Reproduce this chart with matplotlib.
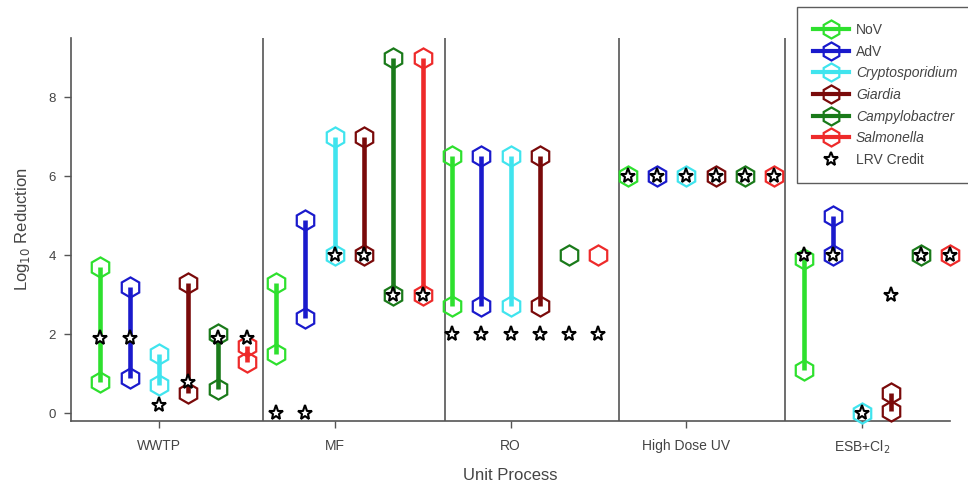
import matplotlib
matplotlib.use("Agg")
import matplotlib.pyplot as plt
from matplotlib.lines import Line2D

plt.rcParams['font.family'] = ['Liberation Sans', 'DejaVu Sans']

processes = ["WWTP", "MF", "RO", "High Dose UV", "ESB+Cl$_2$"]
species = ["NoV", "AdV", "Cryptosporidium", "Giardia", "Campylobactrer", "Salmonella"]
italic = [False, False, True, True, True, True]
colors = ["#2ee02e", "#1a1acc", "#40e4ee", "#7a0a0a", "#1a7a1a", "#ee2a2a"]

nov_low = [0.8, 1.5, 2.7, 6.0, 1.1]
nov_high = [3.7, 3.3, 6.5, 6.0, 3.9]
adv_low = [0.9, 2.4, 2.7, 6.0, 4.0]
adv_high = [3.2, 4.9, 6.5, 6.0, 5.0]
crypto_low = [0.7, 4.0, 2.7, 6.0, 0.0]
crypto_high = [1.5, 7.0, 6.5, 6.0, 0.0]
giardia_low = [0.5, 4.0, 2.7, 6.0, 0.05]
giardia_high = [3.3, 7.0, 6.5, 6.0, 0.5]
campy_low = [0.6, 3.0, 4.0, 6.0, 4.0]
campy_high = [2.0, 9.0, 4.0, 6.0, 4.0]
salm_low = [1.3, 3.0, 4.0, 6.0, 4.0]
salm_high = [1.7, 9.0, 4.0, 6.0, 4.0]

nov_lrv = [1.9, 0.0, 2.0, 6.0, 4.0]
adv_lrv = [1.9, 0.0, 2.0, 6.0, 4.0]
crypto_lrv = [0.2, 4.0, 2.0, 6.0, 0.0]
giardia_lrv = [0.8, 4.0, 2.0, 6.0, 3.0]
campy_lrv = [1.9, 3.0, 2.0, 6.0, 4.0]
salm_lrv = [1.9, 3.0, 2.0, 6.0, 4.0]

lows = [nov_low, adv_low, crypto_low, giardia_low, campy_low, salm_low]
highs = [nov_high, adv_high, crypto_high, giardia_high, campy_high, salm_high]
lrvs = [nov_lrv, adv_lrv, crypto_lrv, giardia_lrv, campy_lrv, salm_lrv]

separators = [1.59, 2.63, 3.62, 4.56]
gray = "#444444"

fig = plt.figure(figsize=(9.68, 4.91), dpi=100)
ax = fig.add_axes([71/968, 70/491, (950-71)/968, (421-38)/491])

for s in separators:
    ax.axvline(s, color="#555555", lw=1.2, zorder=1)

hex_ms = 14.5
for j, sp in enumerate(species):
    off = (j - 2) / 6.0
    for i in range(len(processes)):
        x = i + 1 + off
        lo, hi = lows[j][i], highs[j][i]
        if hi != lo:
            ax.plot([x, x], [lo, hi], color=colors[j], lw=3.3, zorder=3,
                    solid_capstyle='butt', clip_on=False)
            ax.plot([x, x], [lo, hi], ls='none', marker='h', ms=hex_ms, mfc='none',
                    mec=colors[j], mew=1.6, zorder=4, clip_on=False)
        else:
            ax.plot([x], [lo], ls='none', marker='h', ms=hex_ms, mfc='none',
                    mec=colors[j], mew=1.6, zorder=4, clip_on=False)
        ax.plot([x], [lrvs[j][i]], ls='none', marker='*', ms=11, mfc='white',
                mec='black', mew=1.5, zorder=5, clip_on=False)

ax.set_xlim(0.5, 5.5)
ax.set_ylim(-0.2, 9.5)
ax.set_xticks(range(1, len(processes) + 1))
ax.set_xticklabels(processes)
ax.set_yticks([0, 2, 4, 6, 8])
for side in ['top', 'right']:
    ax.spines[side].set_visible(False)
for side in ['left', 'bottom']:
    ax.spines[side].set_color("#555555")
    ax.spines[side].set_linewidth(1.2)
ax.tick_params(axis='both', direction='out', length=5, width=1, color="#555555",
               labelcolor=gray)
ax.tick_params(axis='x', pad=8, labelsize=10)
ax.tick_params(axis='y', pad=6, labelsize=9.5)
ax.set_xlabel("Unit Process", color=gray, fontsize=12, labelpad=8)
ax.set_ylabel("Log$_{10}$ Reduction", color=gray, fontsize=12, labelpad=12)

handles = []
for j, sp in enumerate(species):
    handles.append(Line2D([0], [0], color=colors[j], lw=3, marker='h', ms=13,
                          mfc='none', mec=colors[j], mew=1.6))
handles.append(Line2D([0], [0], ls='none', marker='*', ms=10, mfc='white',
                      mec='black', mew=1.5))
labels = species + ["LRV Credit"]
leg = fig.legend(handles, labels, loc='upper left', bbox_to_anchor=(797/968, 1 - 7/491),
                 frameon=True, fancybox=False, edgecolor='#333333', fontsize=10,
                 handlelength=2.6, labelspacing=0.55, borderpad=1.15,
                 handletextpad=0.5, borderaxespad=0)
leg.get_frame().set_linewidth(1.0)
for t, it in zip(leg.get_texts(), italic + [False]):
    t.set_color(gray)
    if it:
        t.set_style('italic')

fig.savefig("out.png", dpi=100)
